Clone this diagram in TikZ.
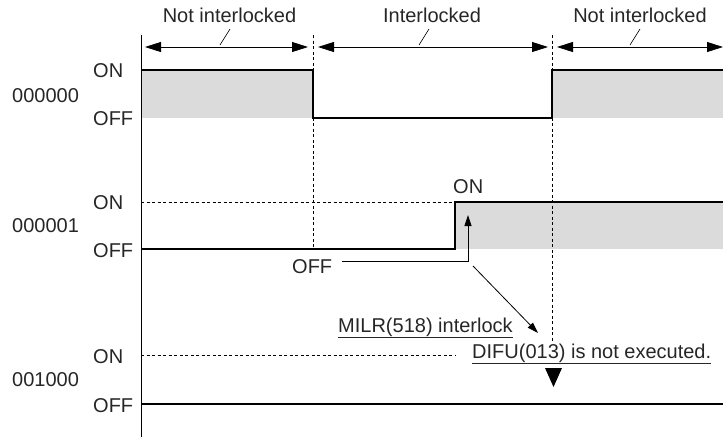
\documentclass[tikz,border=0pt]{standalone}
\usepackage{fontspec}
\setmainfont{Liberation Sans}
\usetikzlibrary{arrows.meta}

\begin{document}
\begin{tikzpicture}[x=1pt,y=-1pt,
  every node/.style={inner sep=0pt,anchor=base west,text=black!85,font=\fontsize{20}{24}\selectfont},
  sig/.style={line width=1.9pt},
  guide/.style={line width=0.6pt,dash pattern=on 3pt off 2.5pt},
  span/.style={{Triangle[length=16pt,width=10pt]}-{Triangle[length=16pt,width=10pt]},line width=0.8pt},
  lead/.style={-{Triangle[length=11pt,width=7pt]},line width=0.8pt}]
\useasboundingbox (0,0) rectangle (723,440);
%shaded ON areas
\fill[black!14] (141,70) rectangle (313,118);
\fill[black!14] (552,70) rectangle (723,118);
\fill[black!14] (455,202) rectangle (723,249);
%guides
\draw[guide] (313,35) -- (313,249);
\draw[guide] (552,35) -- (552,342);
\draw[guide] (141,202) -- (455,202);
\draw[guide] (141,355) -- (455,355);
%time axis
\draw[line width=1pt] (141,35) -- (141,437);
%signals
\draw[sig] (141,70) -- (313,70) -- (313,118) -- (552,118) -- (552,70) -- (723,70);
\draw[sig] (141,249) -- (455,249) -- (455,202) -- (723,202);
\draw[sig] (141,404) -- (723,404);
%signal names
\node (s0) at (12,102) {000000};
\node (on0) at (93,77) {ON};
\node (off0) at (93,125) {OFF};
\node (s1) at (12,232) {000001};
\node (on1) at (93,209) {ON};
\node (off1) at (93,257) {OFF};
\node (s2) at (12,386) {001000};
\node (on2) at (93,363) {ON};
\node (off2) at (93,412) {OFF};
%interlock spans
\node[anchor=base] (t1) at (229.5,22) {Not interlocked};
\node[anchor=base] (t2) at (432,22) {Interlocked};
\node[anchor=base] (t3) at (640,22) {Not interlocked};
\coordinate (a0) at (145,47); \coordinate (a1) at (308,47);
\coordinate (b0) at (318,47); \coordinate (b1) at (548,47);
\coordinate (c0) at (557,47); \coordinate (c1) at (723,47);
\draw[span] (a0) -- (a1);
\draw[span] (b0) -- (b1);
\draw[span] (c0) -- (c1);
\draw[line width=0.6pt] (220,45) -- (230,29);
\draw[line width=0.6pt] (419,45) -- (429,29);
\draw[line width=0.6pt] (630,45) -- (640,29);
%edge labels
\node (onlbl) at (453,193) {ON};
\node (offlbl) at (292,273) {OFF};
\draw[lead] (342,261) -- (468,261) -- (468,215);
\node (milr) at (338,332) {\underline{MILR(518) interlock}};
\node (difu) at (472,358) {\underline{DIFU(013) is not executed.}};
\coordinate (tip) at (538,333);
\draw[lead] (473,266) -- (tip);
\fill (545,368) -- (562,368) -- (553.5,387) -- cycle;
\end{tikzpicture}
\end{document}
